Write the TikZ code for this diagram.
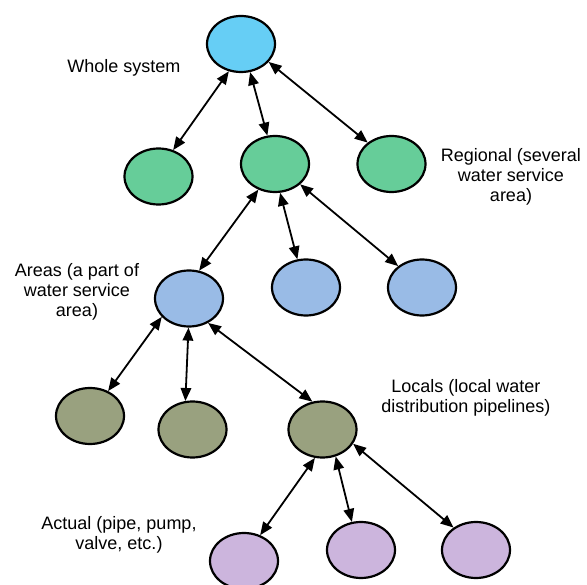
\documentclass[tikz,border=0pt]{standalone}
\usepackage{fontspec}
\setmainfont{Liberation Sans}
\usetikzlibrary{shapes.geometric,arrows.meta}
\definecolor{cTop}{RGB}{102,206,245}
\definecolor{cGreen}{RGB}{102,205,153}
\definecolor{cBlue}{RGB}{153,187,230}
\definecolor{cOlive}{RGB}{153,161,127}
\definecolor{cPurple}{RGB}{204,181,221}
\tikzset{
  unit/.style={ellipse, draw=black, line width=2.2pt, minimum width=68pt,
    minimum height=56pt, inner sep=0pt},
  link/.style={line width=1.8pt, {Triangle[length=13pt,width=10.5pt]}-{Triangle[length=13pt,width=10.5pt]}},
  caption/.style={align=center, inner sep=0pt, font=\fontsize{18}{20}\selectfont}
}
\begin{document}
\begin{tikzpicture}[x=1pt, y=-1pt]
\clip (0,0) rectangle (587,585);
% hierarchy levels
\node[unit, fill=cTop]    (top) at (241,44) {};
\node[unit, fill=cGreen]  (g1)  at (158.5,176.5) {};
\node[unit, fill=cGreen]  (g2)  at (275,164) {};
\node[unit, fill=cGreen]  (g3)  at (391.5,164) {};
\node[unit, fill=cBlue]   (b1)  at (189,298.5) {};
\node[unit, fill=cBlue]   (b2)  at (306,287.5) {};
\node[unit, fill=cBlue]   (b3)  at (422,287.5) {};
\node[unit, fill=cOlive]  (o1)  at (90,416) {};
\node[unit, fill=cOlive]  (o2)  at (192.5,429.5) {};
\node[unit, fill=cOlive]  (o3)  at (322.5,429.5) {};
\node[unit, fill=cPurple] (p1)  at (244,561) {};
\node[unit, fill=cPurple] (p2)  at (361,550) {};
\node[unit, fill=cPurple] (p3)  at (476,550) {};
% two-way links between levels
\draw[link] (top.246) -- (g1.61);
\draw[link] (top.288) -- (g2.105);
\draw[link] (top.327) -- (g3.138);
\draw[link] (g2.237) -- (b1.70);
\draw[link] (g2.280) -- (b2.107);
\draw[link] (g2.321) -- (b3.138);
\draw[link] (b1.214) -- (o1.54);
\draw[link] (b1.269) -- (o2.104);
\draw[link] (b1.308) -- (o3.110);
\draw[link] (o3.255) -- (p1.58);
\draw[link] (o3.296) -- (p2.108);
\draw[link] (o3.335) -- (p3.135);
% level captions
\node[caption] (lwhole) at (124,68) {Whole system};
\node[caption] (lreg)   at (511,177) {Regional (several\\water service\\area)};
\node[caption] (larea)  at (77,292) {Areas (a part of\\water service\\area)};
\node[caption] (lloc)   at (466,398) {Locals (local water\\distribution pipelines)};
\node[caption] (lact)   at (119,535) {Actual (pipe, pump,\\valve, etc.)};
\end{tikzpicture}
\end{document}
